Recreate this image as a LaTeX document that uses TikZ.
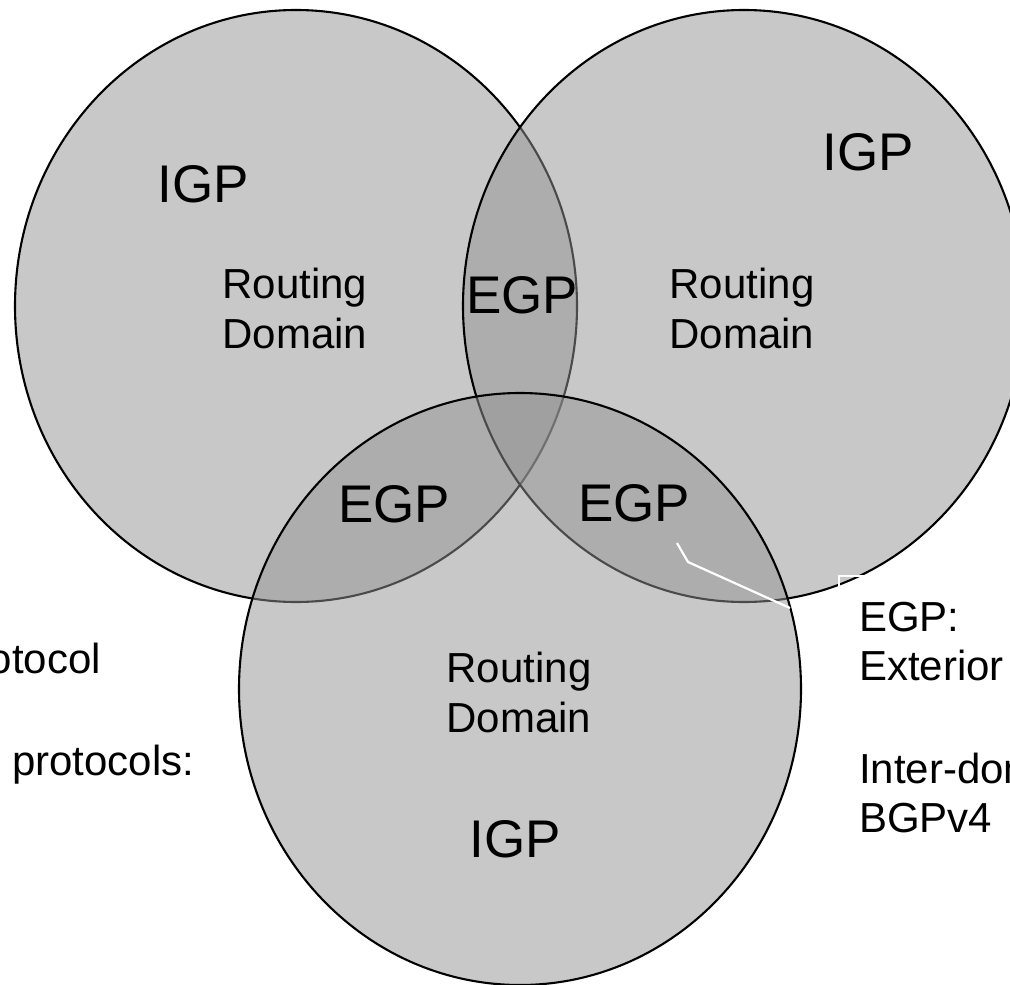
\documentclass[tikz,border=0pt]{standalone}
\usepackage{fontspec}
\setmainfont{Liberation Sans}
\usetikzlibrary{shapes.geometric}
\definecolor{domfill}{RGB}{147,147,147}
\begin{document}
\begin{tikzpicture}[x=1pt,y=-1pt,
  rdom/.style={ellipse, draw=black, line width=2.1pt, fill=domfill, fill opacity=0.51,
    minimum width=562pt, minimum height=592pt, inner sep=0pt},
  bigtxt/.style={font=\fontsize{53}{60}\selectfont, inner sep=0pt, anchor=base},
  midtxt/.style={font=\fontsize{42}{50}\selectfont, inner sep=0pt, anchor=base},
  sidetxt/.style={font=\fontsize{42}{50}\selectfont, inner sep=0pt, anchor=base west},
  callout/.style={draw=white, line width=2.2pt, line join=miter}]
\useasboundingbox (0,0) rectangle (1010,985);
\clip (0,0) rectangle (1010,985);
% routing domains
\node[rdom] (domL) at (296,306) {};
\node[rdom] (domR) at (744,306) {};
\node[rdom] (domB) at (520,689) {};
% callout
\coordinate (cTip) at (677,543);
\coordinate (cBend) at (688,562);
\coordinate (cEnd) at (790,608);
\draw[callout] (cTip) -- (cBend) -- (cEnd);
\node[callout, minimum width=200pt, minimum height=300pt, anchor=north west, inner sep=0pt] (cBox) at (838,575) {};
% labels
\node[bigtxt] (igpL) at (203.5,202) {IGP};
\node[midtxt] (rdL1) at (295,298) {Routing};
\node[midtxt] (rdL2) at (295,348) {Domain};
\node[bigtxt] (igpR) at (868.5,170) {IGP};
\node[midtxt] (rdR1) at (742,298) {Routing};
\node[midtxt] (rdR2) at (742,348) {Domain};
\node[bigtxt] (egpT) at (522,313) {EGP};
\node[bigtxt] (egpL) at (394,522) {EGP};
\node[bigtxt] (egpR) at (634,521) {EGP};
\node[midtxt] (rdB1) at (519,682) {Routing};
\node[midtxt] (rdB2) at (519,732) {Domain};
\node[bigtxt] (igpB) at (515.5,857) {IGP};
% side texts
\node[sidetxt] (sEGP) at (859,631) {EGP:};
\node[sidetxt] (sExt) at (859,680) {Exterior};
\node[sidetxt] (sInter) at (859,783) {Inter-dom};
\node[sidetxt] (sBGP) at (859,832) {BGPv4};
\node[midtxt, anchor=base east] (lProt) at (101,673) {otocol};
\node[sidetxt] (lProts) at (12,775) {protocols:};
\end{tikzpicture}
\end{document}
